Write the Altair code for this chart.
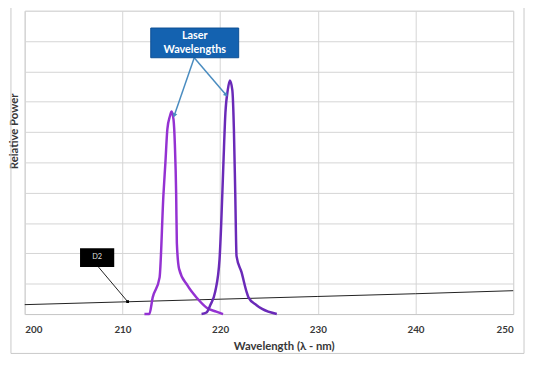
import altair as alt
import pandas as pd

# Peak 1 (~215 nm)
p1_wl = [212.25, 212.75, 213.1, 213.8, 214.2, 214.4, 214.6, 214.86, 215.03, 215.23, 215.37, 215.5, 215.57, 215.8, 216.64, 217.65, 218.66, 219.6, 220.3]
p1_val = [0.0, 0.0, 0.55, 1.2, 3.95, 5.0, 6.1, 6.52, 6.68, 6.41, 5.56, 3.95, 2.34, 1.49, 0.95, 0.52, 0.2, 0.08, 0.0]
# Peak 2 (~221 nm)
p2_wl = [218.1, 218.6, 219.0, 219.5, 219.94, 220.1, 220.34, 220.54, 220.78, 221.0, 221.25, 221.41, 221.55, 221.68, 222.19, 222.7, 222.9, 223.7, 224.3, 225.8]
p2_val = [0.0, 0.05, 0.3, 0.74, 1.8, 2.88, 5.0, 6.63, 7.38, 7.7, 7.38, 6.09, 3.95, 1.91, 1.38, 0.74, 0.55, 0.3, 0.17, 0.0]
# D2 lamp baseline
d2_wl = [200, 210, 220, 230, 240, 250]
d2_val = [0.31, 0.4, 0.49, 0.58, 0.67, 0.77]

x_ticks = [200, 210, 220, 230, 240, 250]
y_grid = list(range(0, 11))

FONT = "Lato"

xs = alt.Scale(domain=[200, 250], nice=False)
ys = alt.Scale(domain=[0, 10], nice=False)

x_axis = alt.Axis(
    values=x_ticks, title="Wavelength (λ - nm)", grid=True, gridColor="#D4D4D4",
    domainColor="#C8C8C8", ticks=False, labelPadding=11, labelFont=FONT, labelFontWeight=700,
    labelFontSize=10, labelColor="#383838", titleFont=FONT, titleFontWeight=700, titleFontSize=11.5,
    titleColor="#383838", titleX=263, titleY=33, titleBaseline="middle")
y_axis = alt.Axis(
    values=y_grid, labels=False, ticks=False, title="Relative Power", grid=True, gridColor="#D4D4D4",
    domainColor="#D4D4D4", titleFont=FONT, titleFontWeight=700, titleFontSize=11.5, titleColor="#383838",
    titleAngle=-90, titleX=-10, titleY=122, titleAlign="center", titleBaseline="middle")


def X(f):
    return alt.X(f, type="quantitative", scale=xs, axis=x_axis)


def Y(f):
    return alt.Y(f, type="quantitative", scale=ys, axis=y_axis)


p1 = pd.DataFrame({"wl": p1_wl, "val": p1_val})
p2 = pd.DataFrame({"wl": p2_wl, "val": p2_val})
d2 = pd.DataFrame({"wl": d2_wl, "val": d2_val})

d2_line = alt.Chart(d2).mark_line(color="#202020", strokeWidth=1).encode(x=X("wl"), y=Y("val"))
l1 = alt.Chart(p1).mark_line(color="#9432D2", strokeWidth=2.5, interpolate="monotone").encode(x=X("wl"), y=Y("val"))
l2 = alt.Chart(p2).mark_line(color="#6A2AB8", strokeWidth=2.5, interpolate="monotone").encode(x=X("wl"), y=Y("val"))

# Annotations
arrows_laser = pd.DataFrame({"x": [217.35, 217.35], "y": [8.45, 8.45], "x2": [215.33, 220.57], "y2": [6.57, 7.24], "ang": [199, 140]})
arr_l = alt.Chart(arrows_laser).mark_rule(color="#4A8CC0", strokeWidth=1.5).encode(
    x=X("x"), y=Y("y"), x2="x2", y2="y2")
head_l = alt.Chart(arrows_laser).mark_point(shape="triangle", filled=True, color="#4A8CC0", size=25, opacity=1).encode(
    x=X("x2"), y=Y("y2"), angle=alt.Angle("ang:Q", scale=None))

box_laser = pd.DataFrame({"x": [212.9], "x2": [221.9], "y": [9.43], "y2": [8.45]})
rect_l = alt.Chart(box_laser).mark_rect(color="#1462B0", stroke="#0D4F94", strokeWidth=1).encode(
    x=X("x"), x2="x2", y=Y("y"), y2="y2")
txt_laser = pd.DataFrame({"x": [217.4, 217.4], "y": [9.18, 8.71], "t": ["Laser", "Wavelengths"]})
text_l = alt.Chart(txt_laser).mark_text(color="white", font=FONT, fontWeight="bold", fontSize=11).encode(
    x=X("x"), y=Y("y"), text="t:N")

arrow_d2 = pd.DataFrame({"x": [207.55], "y": [1.55], "x2": [210.53], "y2": [0.41]})
arr_d = alt.Chart(arrow_d2).mark_rule(color="#202020", strokeWidth=1).encode(
    x=X("x"), y=Y("y"), x2="x2", y2="y2")
head_d = alt.Chart(arrow_d2).mark_point(shape="square", filled=True, color="#000000", size=8, opacity=1).encode(
    x=X("x2"), y=Y("y2"))
box_d2 = pd.DataFrame({"x": [205.66], "x2": [209.16], "y": [2.17], "y2": [1.55]})
rect_d = alt.Chart(box_d2).mark_rect(color="#000000").encode(
    x=X("x"), x2="x2", y=Y("y"), y2="y2")
txt_d2 = pd.DataFrame({"x": [207.41], "y": [1.87], "t": ["D2"]})
text_d = alt.Chart(txt_d2).mark_text(color="#DDDDDD", font=FONT, fontSize=7.5).encode(
    x=X("x"), y=Y("y"), text="t:N")

# outer frame (pixel placement)
frame = alt.Chart(pd.DataFrame({"a": [0]})).mark_rect(fill=None, stroke="#C8C8C8", strokeWidth=1, clip=False).encode(
    x=alt.value(-14), x2=alt.value(507), y=alt.value(-6), y2=alt.value(348))

chart = alt.layer(d2_line, l1, l2, arr_l, head_l, rect_l, text_l, arr_d, head_d, rect_d, text_d, frame).properties(
    width=496, height=308,
    autosize=alt.AutoSizeParams(type="none"),
    padding={"left": 17, "top": 0, "right": 13, "bottom": 51},
).configure_view(stroke="#D4D4D4").configure(background="white")

chart.save("out.html", embed_options={"renderer": "svg", "actions": False})
